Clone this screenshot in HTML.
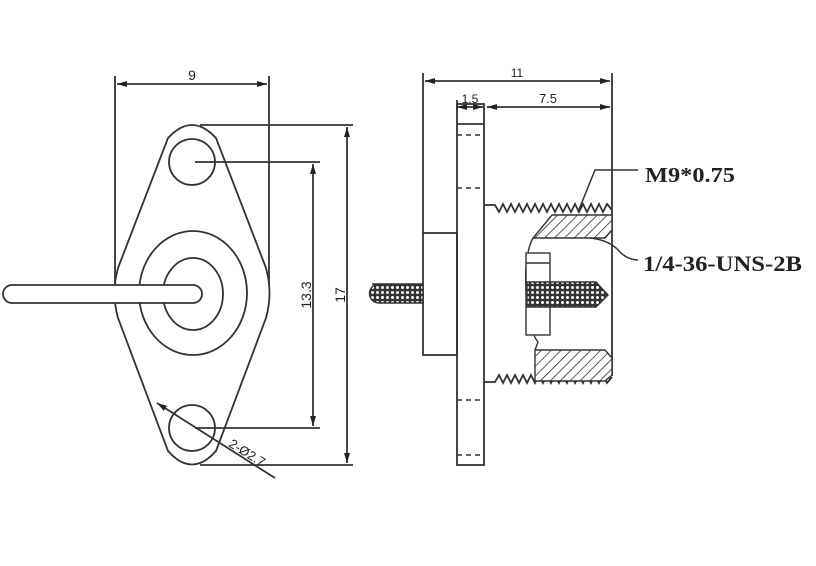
<!DOCTYPE html>
<html><head><meta charset="utf-8"><style>
html,body{margin:0;padding:0;background:#fff;}
svg{display:block;}
text{font-family:"Liberation Sans",sans-serif;fill:#222;}
</style></head><body>
<svg width="816" height="566" viewBox="0 0 816 566" xmlns="http://www.w3.org/2000/svg">
<defs>
<pattern id="hatch" width="7" height="7" patternUnits="userSpaceOnUse" patternTransform="rotate(45)">
<rect width="7" height="7" fill="#fff"/><line x1="0" y1="0" x2="0" y2="7" stroke="#333" stroke-width="1.6"/>
</pattern>
<pattern id="dots" width="5" height="5" patternUnits="userSpaceOnUse">
<rect width="5" height="5" fill="#333"/><circle cx="2.5" cy="2.5" r="1.5" fill="#fff"/>
</pattern>
<marker id="ar" viewBox="0 0 10 6" refX="10" refY="3" markerWidth="10" markerHeight="6" orient="auto-start-reverse" markerUnits="userSpaceOnUse">
<path d="M0,0 L10,3 L0,6z" fill="#222"/></marker>
</defs>
<g fill="none" stroke="#333" stroke-width="1.8">
<!-- LEFT VIEW -->
<line x1="115" y1="76" x2="115" y2="285"/>
<line x1="269" y1="76" x2="269" y2="285"/>
<line x1="117" y1="84" x2="267" y2="84" marker-start="url(#ar)" marker-end="url(#ar)"/>
<path d="M168,138 Q192,112 216,138 L266,268 Q273,293 266,318 L216,451 Q192,478 168,451 L118,318 Q111,293 118,268 Z"/>
<circle cx="192" cy="162" r="23"/>
<circle cx="192" cy="428" r="23"/>
<ellipse cx="193" cy="293" rx="54" ry="62"/>
<ellipse cx="193" cy="294" rx="30" ry="36"/>
<path d="M12,285 L193,285 A9,9 0 0 1 193,303 L12,303 A9,9 0 0 1 12,285 Z" fill="#fff"/>
<line x1="195" y1="162" x2="320" y2="162"/>
<line x1="195" y1="428" x2="320" y2="428"/>
<line x1="313" y1="164" x2="313" y2="426" marker-start="url(#ar)" marker-end="url(#ar)"/>
<line x1="200" y1="125" x2="353" y2="125"/>
<line x1="200" y1="465" x2="353" y2="465"/>
<line x1="347" y1="127" x2="347" y2="463" marker-start="url(#ar)" marker-end="url(#ar)"/>
<line x1="157" y1="403" x2="275" y2="478" marker-start="url(#ar)"/>
<!-- RIGHT VIEW -->
<line x1="423" y1="73" x2="423" y2="233"/>
<line x1="612" y1="73" x2="612" y2="376"/>
<line x1="425" y1="81" x2="610" y2="81" marker-start="url(#ar)" marker-end="url(#ar)"/>
<line x1="457" y1="100" x2="457" y2="110"/>
<line x1="457" y1="107" x2="483" y2="107" marker-start="url(#ar)" marker-end="url(#ar)"/>
<line x1="487" y1="107" x2="610" y2="107" marker-start="url(#ar)" marker-end="url(#ar)"/>
<rect x="457" y="104" width="27" height="361"/>
<line x1="457" y1="124" x2="484" y2="124"/>
<g stroke-dasharray="5,4" stroke-width="1.5">
<line x1="457" y1="135" x2="484" y2="135"/><line x1="457" y1="188" x2="484" y2="188"/>
<line x1="457" y1="400" x2="484" y2="400"/><line x1="457" y1="455" x2="484" y2="455"/>
</g>
<rect x="423" y="233" width="34" height="122"/>
<path d="M372,284 L423,284 L423,303 L379,303 A9.5,9.5 0 0 1 379,284 Z" fill="url(#dots)" stroke-width="1.4"/>
<!-- threads -->
<path d="M484,205 L495,205 L499,212 L503,204 L507,212 L511,204 L515,212 L519,204 L523,212 L527,204 L531,212 L535,204 L539,212 L543,204 L547,212 L551,204 L555,212 L559,204 L563,212 L567,204 L571,212 L575,204 L579,212 L583,204 L587,212 L591,204 L595,212 L599,204 L603,212 L607,204 L612,210"/>
<path d="M484,382 L495,382 L499,375 L503,383 L507,375 L511,383 L515,375 L519,383 L523,375 L527,383 L531,375 L535,383 L539,375 L543,383 L547,375 L551,383 L555,375 L559,383 L563,375 L567,383 L571,375 L575,383 L579,375 L583,383 L587,375 L591,383 L595,375 L599,383 L603,375 L607,383 L612,377"/>
<path d="M552,215 L612,215 L612,230 L605,238 L533,238 Z" fill="url(#hatch)" stroke-width="1.4"/>
<path d="M535,350 L605,350 L612,358 L612,375 L605,381 L535,381 Z" fill="url(#hatch)" stroke-width="1.4"/>
<path d="M533,238 Q524,255 526,290 Q528,330 538,342 L535,350" stroke-width="1.4"/>
<rect x="526" y="253" width="24" height="82" fill="#fff" stroke-width="1.4"/>
<line x1="526" y1="263" x2="550" y2="263" stroke-width="1.4"/>
<path d="M527,282 L596,282 L608,295 L596,307 L527,307 Z" fill="url(#dots)" stroke-width="1.4"/>
<!-- leaders -->
<path d="M578,212 L595,170 L638,170" stroke-width="1.5"/>
<path d="M590,238 Q610,240 620,252 Q628,260 638,260" stroke-width="1.5"/>
</g>
<text x="192" y="80" font-size="14" text-anchor="middle">9</text>
<text transform="translate(311,295) rotate(-90)" font-size="14" text-anchor="middle">13.3</text>
<text transform="translate(345,295) rotate(-90)" font-size="14" text-anchor="middle">17</text>
<text transform="translate(228,446) rotate(32)" font-size="13">2-Ø2.7</text>
<text x="517" y="77" font-size="12" text-anchor="middle">11</text>
<text x="470" y="103" font-size="12" text-anchor="middle">1.5</text>
<text x="548" y="103" font-size="13" text-anchor="middle">7.5</text>
<text x="645" y="182" font-size="21" font-family="Liberation Serif" font-weight="bold" textLength="90" lengthAdjust="spacingAndGlyphs" style="font-family:'Liberation Serif',serif">M9*0.75</text>
<text x="643" y="271" font-size="22" font-weight="bold" textLength="159" lengthAdjust="spacingAndGlyphs" style="font-family:'Liberation Serif',serif">1/4-36-UNS-2B</text>
</svg>
</body></html>
